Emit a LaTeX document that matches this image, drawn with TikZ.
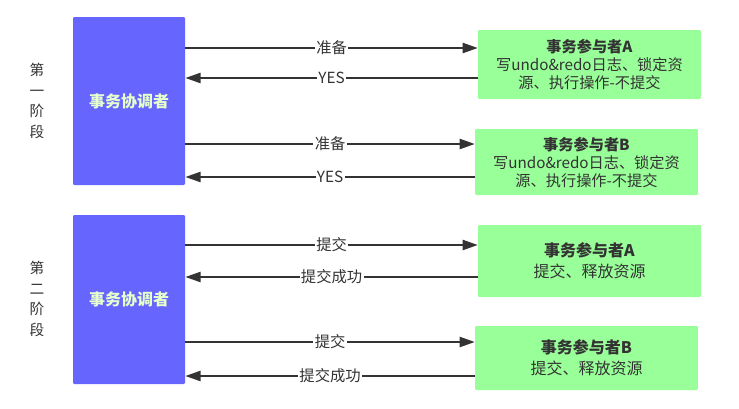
\documentclass[tikz,border=0pt]{standalone}
\usepackage{fontspec}
\setmainfont{Noto Sans CJK SC}
\usetikzlibrary{arrows.meta,positioning}
\definecolor{coordblue}{HTML}{6666FF}
\definecolor{partgreen}{HTML}{99FF99}
\definecolor{inkgray}{HTML}{333333}
\definecolor{palelime}{HTML}{E6FFCC}

\begin{document}
\begin{tikzpicture}[x=0.75pt, y=-0.75pt,
  coord/.style={fill=coordblue, rounded corners=0.8pt, minimum width=84pt, inner sep=0pt,
    text=palelime, font=\bfseries\fontsize{12}{14}\selectfont},
  part/.style={fill=partgreen, rounded corners=0.8pt, minimum width=167pt, inner sep=0pt,
    align=center, text=inkgray},
  small/.style={font=\fontsize{11.4}{13.5}\selectfont},
  large/.style={font=\fontsize{12}{15.5}\selectfont},
  msg/.style={draw=inkgray, line width=1.8pt, -{Triangle[length=11.5pt,width=7.5pt]}},
  lbl/.style={fill=white, inner xsep=1pt, inner ysep=0pt, text=inkgray,
    font=\fontsize{11.5}{13}\selectfont},
  phase/.style={align=center, text=inkgray, font=\fontsize{11}{15.5}\selectfont}]
\useasboundingbox (0,0) rectangle (739,408);
% phase one
\node[phase] (p1) at (37,101) {第\\一\\阶\\段};
\node[coord, minimum height=126pt] (c1) at (129,101) {事务协调者};
\node[part, small, minimum height=51.75pt] (a1) at (589.5,64.5)
  {\textbf{事务参与者A}\\写undo\&redo日志、锁定资\\源、执行操作-不提交};
\node[part, small, minimum height=49.5pt] (b1) at (586.5,162)
  {\textbf{事务参与者B}\\写undo\&redo日志、锁定资\\源、执行操作-不提交};
\draw[msg] (c1.east |- 0,48) -- node[lbl] {准备} (a1.west |- 0,48);
\draw[msg] (a1.west |- 0,78) -- node[lbl] {YES} (c1.east |- 0,78);
\draw[msg] (c1.east |- 0,144) -- node[lbl] {准备} (b1.west |- 0,144);
\draw[msg] (b1.west |- 0,177) -- node[lbl] {YES} (c1.east |- 0,177);
% phase two
\node[phase] (p2) at (37,299) {第\\二\\阶\\段};
\node[coord, minimum height=126.75pt] (c2) at (129,299.5) {事务协调者};
\node[part, large, minimum height=54pt] (a2) at (589.5,261)
  {\textbf{事务参与者A}\\提交、释放资源};
\node[part, large, minimum height=48pt] (b2) at (586.5,358)
  {\textbf{事务参与者B}\\提交、释放资源};
\draw[msg] (c2.east |- 0,245) -- node[lbl] {提交} (a2.west |- 0,245);
\draw[msg] (a2.west |- 0,277) -- node[lbl] {提交成功} (c2.east |- 0,277);
\draw[msg] (c2.east |- 0,342) -- node[lbl] {提交} (b2.west |- 0,342);
\draw[msg] (b2.west |- 0,376) -- node[lbl] {提交成功} (c2.east |- 0,376);
\end{tikzpicture}
\end{document}
